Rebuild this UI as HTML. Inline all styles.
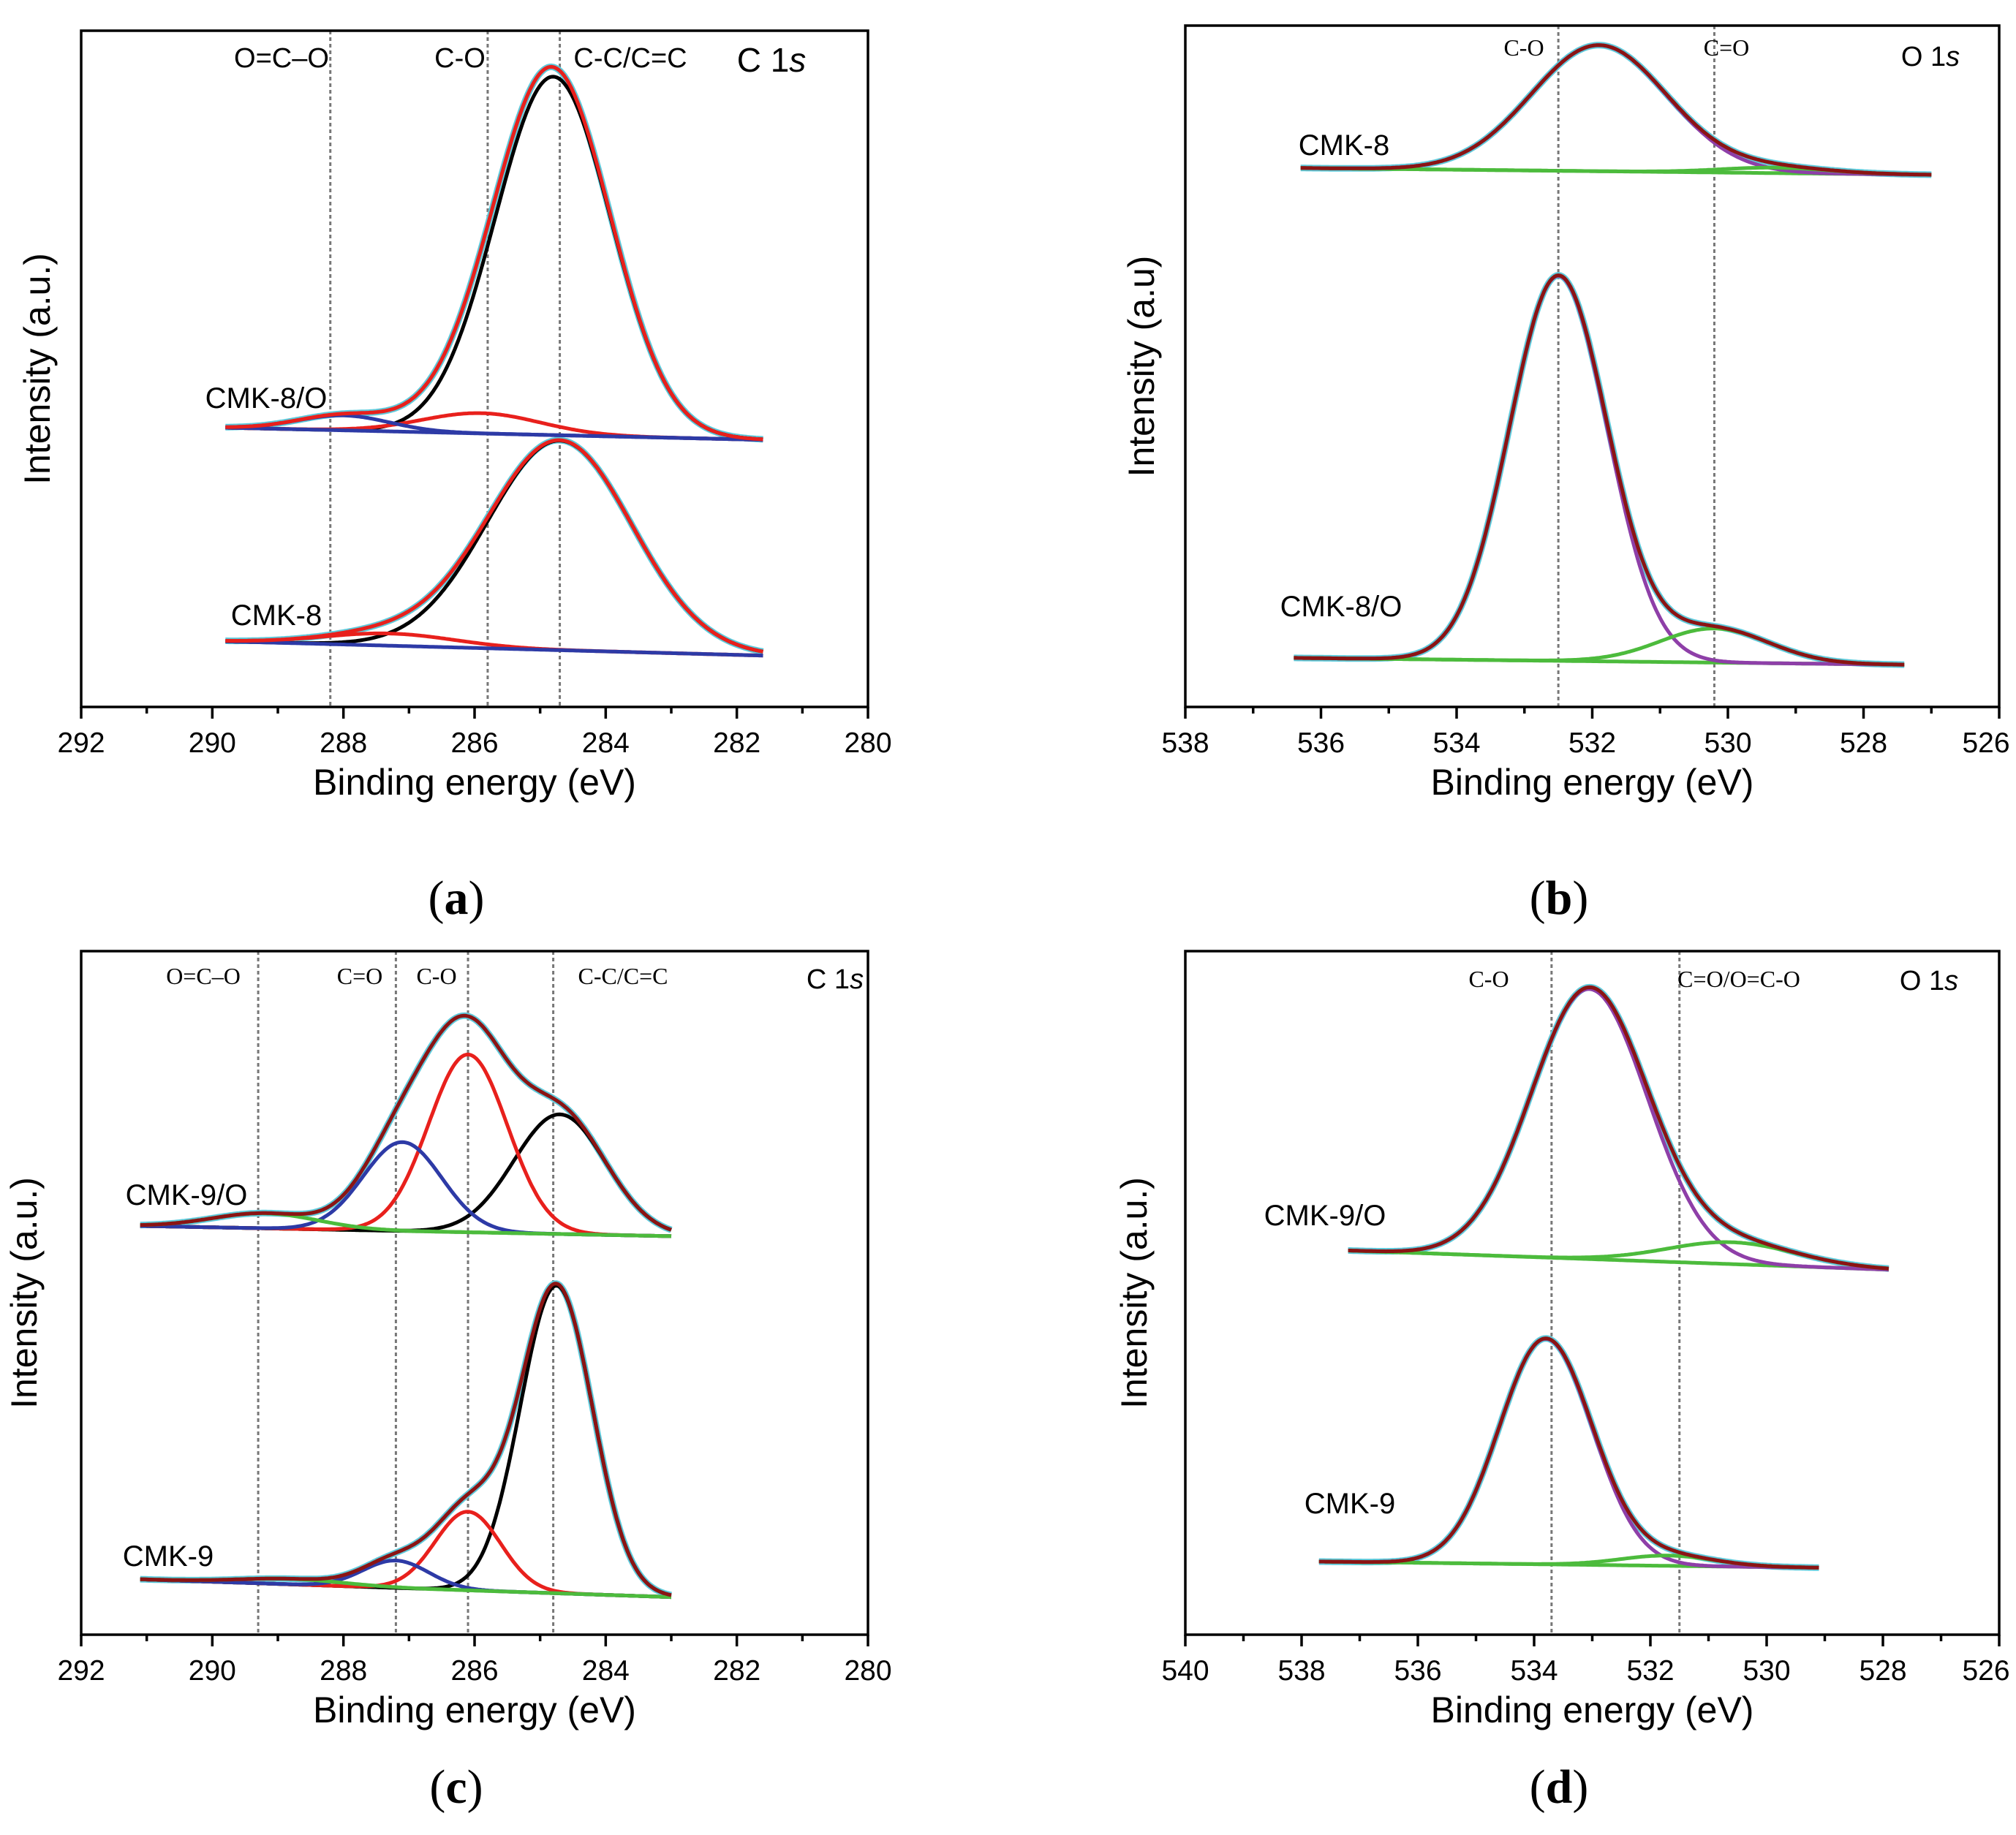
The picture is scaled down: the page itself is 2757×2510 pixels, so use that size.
<!DOCTYPE html>
<html><head><meta charset="utf-8">
<style>
html,body{margin:0;padding:0;background:#fff;}
svg{display:block;}
.sans{font-family:"Liberation Sans",sans-serif;}
.serif{font-family:"Liberation Serif",serif;}
</style></head>
<body>
<svg id="fig" width="2757" height="2510" viewBox="0 0 2757 2510" xmlns="http://www.w3.org/2000/svg"></svg>
<script>
// ---------- data (energies eV, intensity in % of plot height) ----------
const aTicks = [292,290,288,286,284,282,280];
const bTicks = [538,536,534,532,530,528,526];
const cTicks = [292,290,288,286,284,282,280];
const dTicks = [540,538,536,534,532,530,528,526];

const aDotted = [288.2,285.8,284.7];
const bDotted = [532.5,530.2];
const cDotted = [289.3,287.2,286.1,284.8];
const dDotted = [533.7,531.5];

// panel a CMK-8/O
const aTopBase = [289.8,41.3,281.6,39.5];
const aTopCenters = [284.8,285.9,288.0];
const aTopHeights = [53,3,2.2];
const aTopSigmas = [0.88,0.9,0.7];
// panel a CMK-8
const aBotBase = [289.8,9.7,281.6,7.6];
const aBotCenters = [284.7,287.3];
const aBotHeights = [31,1.8];
const aBotSigmas = [1.1,1.0];
// panel b CMK-8
const bTopBase = [536.3,79.1,527.0,78.1];
const bTopCenters = [531.9,529.3];
const bTopHeights = [18.5,0.8];
const bTopSigmas = [1.0,0.8];
// panel b CMK-8/O
const bBotBase = [536.4,7.2,527.4,6.2];
const bBotCenters = [532.5,530.2];
const bBotHeights = [56.5,5];
const bBotSigmas = [0.72,0.8];
// panel c CMK-9/O
const cTopBase = [291.1,59.8,283.0,58.3];
const cTopCenters = [284.7,286.1,287.1,289.2];
const cTopHeights = [17.5,26,13,2.2];
const cTopSigmas = [0.7,0.6,0.6,0.8];
// panel c CMK-9
const cBotBase = [291.1,8.1,283.0,5.5];
const cBotCenters = [284.75,286.1,287.2,288.8];
const cBotHeights = [45,11.5,4,0.8];
const cBotSigmas = [0.55,0.5,0.5,0.8];
// panel d CMK-9/O
const dTopBase = [537.2,56.2,527.9,53.4];
const dTopCenters = [533.05,530.6];
const dTopHeights = [39.5,3.2];
const dTopSigmas = [1.0,1.1];
// panel d CMK-9
const dBotBase = [537.7,10.7,529.1,9.8];
const dBotCenters = [533.8,531.7];
const dBotHeights = [33,1.5];
const dBotSigmas = [0.8,0.8];

// ---------- drawing ----------
const NS = "http://www.w3.org/2000/svg";
const svg = document.getElementById('fig');
const COL = {cyan:'#5fc9da',red:'#e8201c',black:'#000',blue:'#2d3aa6',green:'#4cbb3c',purple:'#8e3fa8',env:'#8b1414'};

function mk(tag, parent){const e=document.createElementNS(NS,tag);parent.appendChild(e);return e;}

function makePanel(id,x0,x1,y0,y1,eMax,eMin){
  const g = mk('g',svg);
  
  
  const xs = e => x0 + (eMax-e)/(eMax-eMin)*(x1-x0);
  const ys = v => y1 - v/100*(y1-y0);
  return {g,xs,ys,x0,x1,y0,y1};
}

function frame(P, ticks){
  const r = mk('rect',P.g);
  
  
  r.setAttribute('x',P.x0);r.setAttribute('y',P.y0);r.setAttribute('width',P.x1-P.x0);r.setAttribute('height',P.y1-P.y0);
  r.setAttribute('fill','none');r.setAttribute('stroke','#000');r.setAttribute('stroke-width','3.5');
  for(let i=0;i<ticks.length;i++){
    const e=ticks[i], x=P.xs(e);
    const t=mk('line',P.g);
    
    
    t.setAttribute('x1',x);t.setAttribute('x2',x);t.setAttribute('y1',P.y1);t.setAttribute('y2',P.y1+16);
    t.setAttribute('stroke','#000');t.setAttribute('stroke-width','3.5');
    const l=mk('text',P.g);
    
    
    const lx = (i===ticks.length-1 && P.x1>2700) ? x-18 : x;
    l.setAttribute('x',lx);l.setAttribute('y',P.y1+62);l.setAttribute('text-anchor','middle');
    l.setAttribute('class','sans');l.setAttribute('font-size','39');l.textContent=e;
    if(i<ticks.length-1){
      const xm=P.xs(e-1);
      const m=mk('line',P.g);
      
      
      m.setAttribute('x1',xm);m.setAttribute('x2',xm);m.setAttribute('y1',P.y1);m.setAttribute('y2',P.y1+9);
      m.setAttribute('stroke','#000');m.setAttribute('stroke-width','3.5');
    }
  }
  const xt=mk('text',P.g);
  
  
  xt.setAttribute('x',(P.x0+P.x1)/2);xt.setAttribute('y',P.y1+120);xt.setAttribute('text-anchor','middle');
  xt.setAttribute('class','sans');xt.setAttribute('font-size','50');xt.textContent='Binding energy (eV)';
}

function ytitle(P,x,txt){
  const t=mk('text',P.g);
  
  
  const cy=(P.y0+P.y1)/2;
  t.setAttribute('x',x);t.setAttribute('y',cy);t.setAttribute('text-anchor','middle');
  t.setAttribute('transform','rotate(-90 '+x+' '+cy+')');
  t.setAttribute('class','sans');t.setAttribute('font-size','50');t.textContent=txt;
}

function dotted(P, arr){
  for(const e of arr){
    const l=mk('line',P.g);
    
    
    l.setAttribute('x1',P.xs(e));l.setAttribute('x2',P.xs(e));l.setAttribute('y1',P.y0);l.setAttribute('y2',P.y1);
    l.setAttribute('stroke','#777');l.setAttribute('stroke-width','3');l.setAttribute('stroke-dasharray','5 4');
  }
}

function text(P,x,y,txt,size,cls,name,anchor){
  const t=mk('text',P.g);
  
  
  t.setAttribute('x',x);t.setAttribute('y',y);t.setAttribute('text-anchor',anchor||'middle');
  t.setAttribute('class',cls);t.setAttribute('font-size',size);
  t.innerHTML=txt;
  return t;
}

function gauss(e,c,h,s){return h*Math.exp(-(e-c)*(e-c)/(2*s*s));}

function spectrum(P,base,centers,heights,sigmas,compColors,baseColor,envColor,name,baseOnTop){
  const eA=base[0], vA=base[1], eB=base[2], vB=base[3];
  const bl = e => vA + (e-eA)/(eB-eA)*(vB-vA);
  const N=300, pts=[];
  for(let i=0;i<=N;i++) pts.push(eA+(eB-eA)*i/N);
  const path=(f)=>pts.map((e,i)=>(i?'L':'M')+P.xs(e).toFixed(1)+' '+P.ys(f(e)).toFixed(1)).join(' ');
  const env = e => bl(e)+centers.reduce((s,c,k)=>s+gauss(e,c,heights[k],sigmas[k]),0);
  const add=(d,col,w,nm)=>{const p=mk('path',P.g);
    
    
    p.setAttribute('d',d);p.setAttribute('fill','none');p.setAttribute('stroke',col);
    p.setAttribute('stroke-width',w);p.setAttribute('stroke-linejoin','round');};
  add(path(env),COL.cyan,9,name+'-raw');
  if(!baseOnTop) add(path(bl),baseColor,5,name+'-baseline');
  for(let k=0;k<centers.length;k++){
    add(path(e=>bl(e)+gauss(e,centers[k],heights[k],sigmas[k])),compColors[k],5,name+'-component');
  }
  if(baseOnTop) add(path(bl),baseColor,5,name+'-baseline');
  add(path(env),envColor,5,name+'-envelope');
}

// Panel a
const A = makePanel('a',111,1187,42,967,292,280);
dotted(A,aDotted);
spectrum(A,aBotBase,aBotCenters,aBotHeights,aBotSigmas,[COL.black,COL.red],COL.blue,COL.red,'cmk8',true);
spectrum(A,aTopBase,aTopCenters,aTopHeights,aTopSigmas,[COL.black,COL.red,COL.blue],COL.blue,COL.red,'cmk8o',true);
frame(A,aTicks);
ytitle(A,68,'Intensity (a.u.)');
text(A,385,92,'O=C–O',38,'sans','peak-label');
text(A,629,92,'C-O',38,'sans','peak-label');
text(A,862,92,'C-C/C=C',38,'sans','peak-label');
text(A,1055,98,'C 1<tspan font-style="italic">s</tspan>',46,'sans','core-level-label');
text(A,364,558,'CMK-8/O',40,'sans','sample-label');
text(A,378,855,'CMK-8',40,'sans','sample-label');
text(A,624,1250,'(<tspan font-weight="bold">a</tspan>)',66,'serif','panel-label');

// Panel b
const B = makePanel('b',1621,2734,35,967,538,526);
dotted(B,bDotted);
spectrum(B,bTopBase,bTopCenters,bTopHeights,bTopSigmas,[COL.purple,COL.green],COL.green,COL.env,'cmk8');
spectrum(B,bBotBase,bBotCenters,bBotHeights,bBotSigmas,[COL.purple,COL.green],COL.green,COL.env,'cmk8o');
frame(B,bTicks);
ytitle(B,1578,'Intensity (a.u)');
text(B,2084,76,'C-O',32,'serif','peak-label');
text(B,2361,76,'C=O',32,'serif','peak-label');
text(B,2640,90,'O 1<tspan font-style="italic">s</tspan>',38,'sans','core-level-label');
text(B,1838,212,'CMK-8',40,'sans','sample-label');
text(B,1834,843,'CMK-8/O',40,'sans','sample-label');
text(B,2132,1250,'(<tspan font-weight="bold">b</tspan>)',66,'serif','panel-label');

// Panel c
const C = makePanel('c',111,1187,1301,2236,292,280);
dotted(C,cDotted);
spectrum(C,cTopBase,cTopCenters,cTopHeights,cTopSigmas,[COL.black,COL.red,COL.blue,COL.green],COL.green,COL.env,'cmk9o');
spectrum(C,cBotBase,cBotCenters,cBotHeights,cBotSigmas,[COL.black,COL.red,COL.blue,COL.green],COL.green,COL.env,'cmk9');
frame(C,cTicks);
ytitle(C,50,'Intensity (a.u.)');
text(C,278,1346,'O=C–O',32,'serif','peak-label');
text(C,492,1346,'C=O',32,'serif','peak-label');
text(C,597,1346,'C-O',32,'serif','peak-label');
text(C,852,1346,'C-C/C=C',32,'serif','peak-label');
text(C,1142,1352,'C 1<tspan font-style="italic">s</tspan>',38,'sans','core-level-label');
text(C,255,1648,'CMK-9/O',40,'sans','sample-label');
text(C,230,2142,'CMK-9',40,'sans','sample-label');
text(C,624,2466,'(<tspan font-weight="bold">c</tspan>)',66,'serif','panel-label');

// Panel d
const D = makePanel('d',1621,2734,1301,2236,540,526);
dotted(D,dDotted);
spectrum(D,dTopBase,dTopCenters,dTopHeights,dTopSigmas,[COL.purple,COL.green],COL.green,COL.env,'cmk9o');
spectrum(D,dBotBase,dBotCenters,dBotHeights,dBotSigmas,[COL.purple,COL.green],COL.green,COL.env,'cmk9');
frame(D,dTicks);
ytitle(D,1568,'Intensity (a.u.)');
text(D,2036,1350,'C-O',32,'serif','peak-label');
text(D,2378,1350,'C=O/O=C-O',32,'serif','peak-label');
text(D,2638,1354,'O 1<tspan font-style="italic">s</tspan>',38,'sans','core-level-label');
text(D,1812,1676,'CMK-9/O',40,'sans','sample-label');
text(D,1846,2070,'CMK-9',40,'sans','sample-label');
text(D,2132,2466,'(<tspan font-weight="bold">d</tspan>)',66,'serif','panel-label');
</script>
</body></html>
